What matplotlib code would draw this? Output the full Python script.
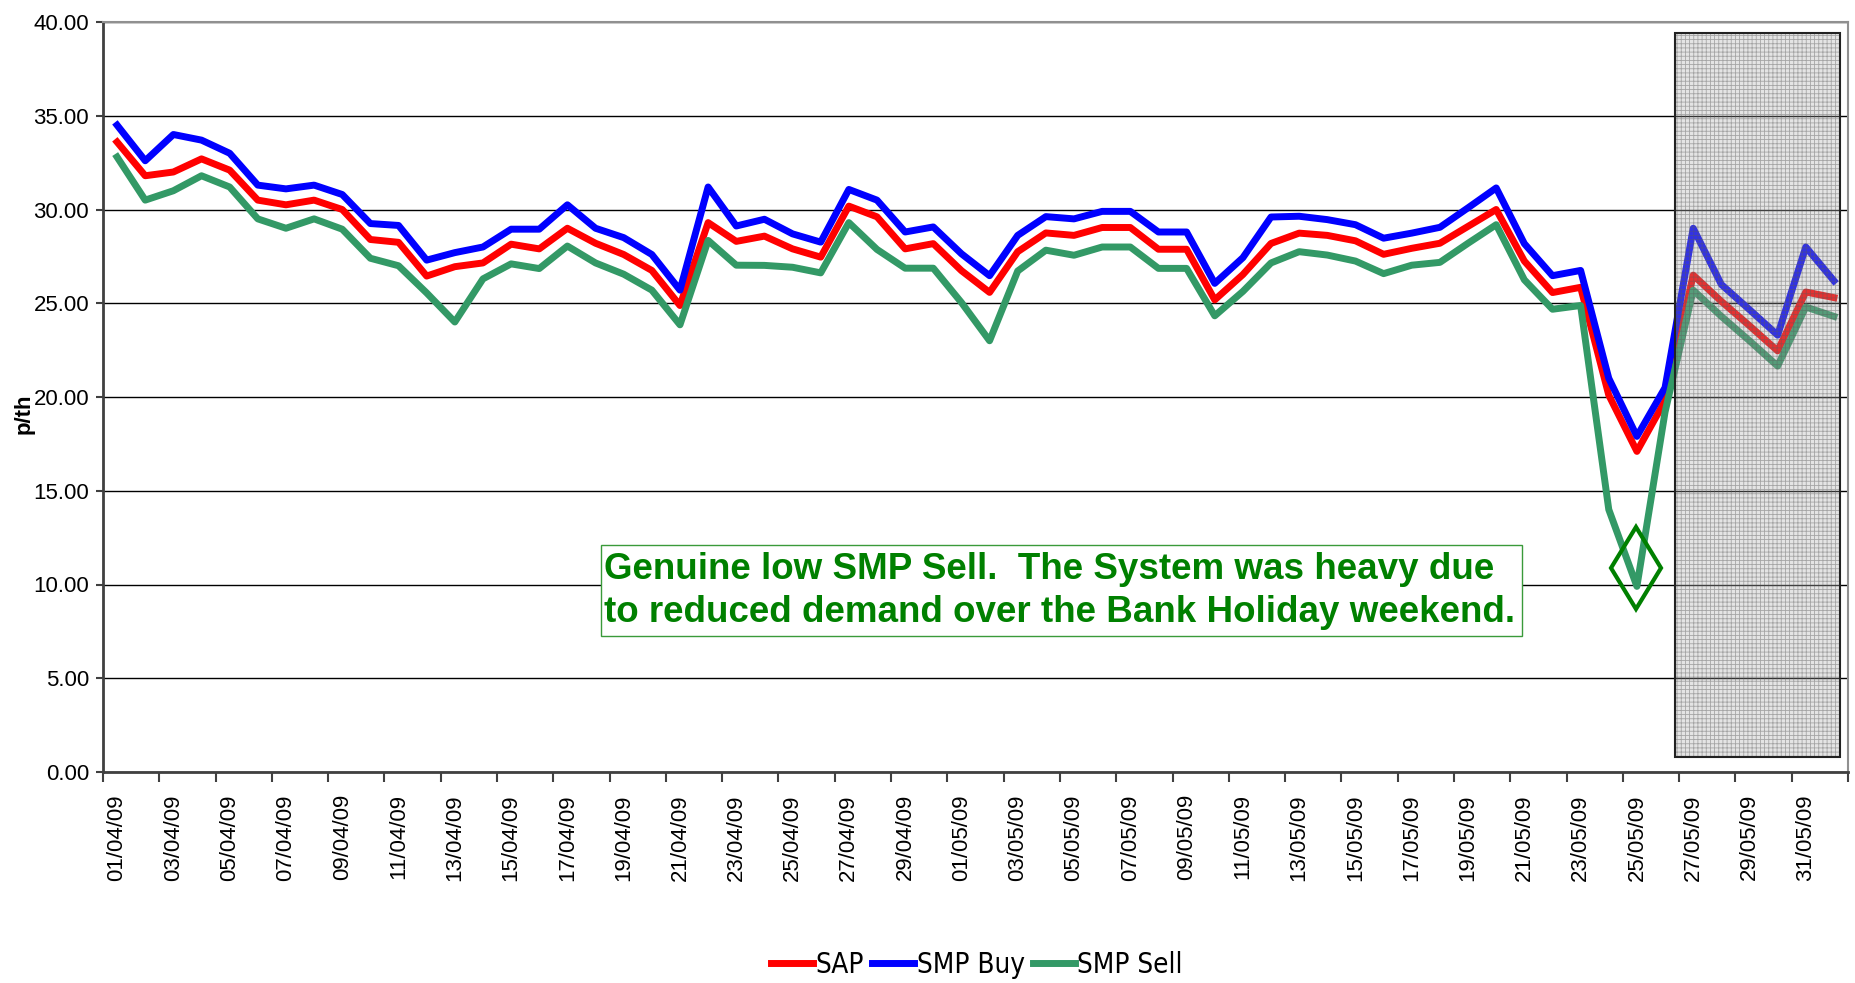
import numpy as np
import pandas as pd
import matplotlib.pyplot as plt
from matplotlib.patches import Rectangle
from matplotlib.ticker import FuncFormatter

dates = list(pd.date_range('2009-04-01', '2009-06-01').strftime('%d/%m/%y'))

sap = [33.6, 31.8, 32.0, 32.7, 32.1, 30.5, 30.25, 30.5, 30.0, 28.4,
       28.25, 26.45, 26.95, 27.15, 28.15, 27.9, 29.0, 28.2, 27.6, 26.75,
       24.88, 29.3, 28.3, 28.58, 27.9, 27.46, 30.18, 29.61, 27.9, 28.18,
       26.74, 25.58, 27.75, 28.75, 28.62, 29.04, 29.04, 27.88, 27.88, 25.18,
       26.53, 28.19, 28.74, 28.62, 28.33, 27.61, 27.93, 28.2, 29.1, 30.0,
       27.25, 25.57, 25.85, 20.1, 17.1, 19.8, 26.5, 25.1, 23.8, 22.46,
       25.6, 25.3]
smp_buy = [34.5, 32.6, 34.0, 33.7, 33.0, 31.3, 31.1, 31.3, 30.8, 29.25,
           29.15, 27.3, 27.7, 28.0, 28.95, 28.95, 30.25, 29.0, 28.5, 27.6,
           25.7, 31.2, 29.12, 29.48, 28.7, 28.26, 31.07, 30.5, 28.8, 29.07,
           27.64, 26.47, 28.62, 29.62, 29.5, 29.9, 29.9, 28.8, 28.8, 26.06,
           27.43, 29.6, 29.64, 29.46, 29.19, 28.47, 28.74, 29.05, 30.09, 31.15,
           28.18, 26.47, 26.75, 21.0, 17.9, 20.5, 29.0, 26.0, 24.66, 23.3,
           28.0, 26.2]
smp_sell = [32.8, 30.5, 31.0, 31.8, 31.2, 29.5, 29.0, 29.5, 28.95, 27.4,
            27.0, 25.55, 24.0, 26.3, 27.1, 26.85, 28.05, 27.15, 26.55, 25.7,
            23.85, 28.35, 27.03, 27.02, 26.92, 26.62, 29.3, 27.87, 26.87, 26.87,
            25.04, 23.0, 26.72, 27.83, 27.56, 28.0, 28.0, 26.86, 26.86, 24.33,
            25.63, 27.15, 27.75, 27.57, 27.25, 26.58, 27.03, 27.18, 28.2, 29.19,
            26.25, 24.68, 24.88, 14.0, 9.9, 19.2, 25.7, 24.3, 23.0, 21.65,
            24.8, 24.3]

note = 'Genuine low SMP Sell.  The System was heavy due\nto reduced demand over the Bank Holiday weekend.'
note_box = (17.19, 7.24, 49.91, 12.09)     # x0, y0, x1, y1 (data units)
diamond_xy = (53.96, 10.86)
shade = (55.34, 0.8, 61.2, 39.4)

plt.rcParams['font.family'] = ['Liberation Sans', 'DejaVu Sans']
plt.rcParams['hatch.linewidth'] = 0.6

W, H = 1856, 983
fig = plt.figure(figsize=(W / 100, H / 100), dpi=100)
ax = fig.add_axes([103 / W, 1 - 772 / H, 1745 / W, 750 / H])

x = np.arange(len(dates))
ax.plot(x, sap, color='#ff0000', lw=5, label='SAP', zorder=3)
ax.plot(x, smp_buy, color='#0000ff', lw=5, label='SMP Buy', zorder=3)
ax.plot(x, smp_sell, color='#339966', lw=5, label='SMP Sell', zorder=3)

ax.set_xlim(-0.5, len(dates) - 0.5)
ax.set_ylim(0, 40)
ax.set_yticks(np.arange(0, 41, 5))
ax.yaxis.set_major_formatter(FuncFormatter(lambda v, p: f'{v:.2f}'))
ax.grid(axis='y', color='black', lw=1)
ax.set_axisbelow(True)

ax.set_xticks(x[::2])
ax.set_xticklabels(dates[::2], rotation=90, fontsize=16)
ax.set_xticks(np.arange(-0.5, len(dates), 2), minor=True)
ax.tick_params(axis='x', which='major', length=0, pad=16)
ax.tick_params(axis='x', which='minor', length=7, width=1.5, color='#404040')
ax.tick_params(axis='y', length=5, width=1.5, pad=5, labelsize=16, color='#404040')

for s in ['left', 'bottom']:
    ax.spines[s].set_color('#404040')
    ax.spines[s].set_linewidth(2)
for s in ['top', 'right']:
    ax.spines[s].set_color('#909090')
    ax.spines[s].set_linewidth(1.5)

ax.set_ylabel('p/th', fontsize=16, fontweight='bold')
ax.yaxis.set_label_coords(-0.039, 0.477)

# shaded period at the end of the month
sx0, sy0, sx1, sy1 = shade
ax.add_patch(Rectangle((sx0, sy0), sx1 - sx0, sy1 - sy0, facecolor=(0.65, 0.65, 0.65, 0.3),
                       edgecolor=(0.35, 0.35, 0.35, 0.45), hatch='++++', lw=0, zorder=4))
ax.add_patch(Rectangle((sx0, sy0), sx1 - sx0, sy1 - sy0, fill=False,
                       edgecolor='#222222', lw=1.5, zorder=4))

# annotation
bx0, by0, bx1, by1 = note_box
ax.add_patch(Rectangle((bx0, by0), bx1 - bx0, by1 - by0, facecolor='white',
                       edgecolor='#3a9a3a', lw=1, zorder=5))
ax.text(bx0 + 0.1, (by0 + by1) / 2, note, ha='left', va='center', fontsize=26.5,
        fontweight='bold', color='#008000', linespacing=1.3, zorder=6)
ax.plot(*diamond_xy, marker='d', ms=42, mfc='none', mec='#008000', mew=3, zorder=6)

fig.legend(loc='center', bbox_to_anchor=(977 / W, 1 - 965 / H), ncol=3, frameon=False,
           prop={'family': 'DejaVu Sans', 'stretch': 'condensed', 'size': 20},
           handlelength=1.5, handletextpad=0.1, columnspacing=0.3)

fig.savefig('out.png', dpi=100)
